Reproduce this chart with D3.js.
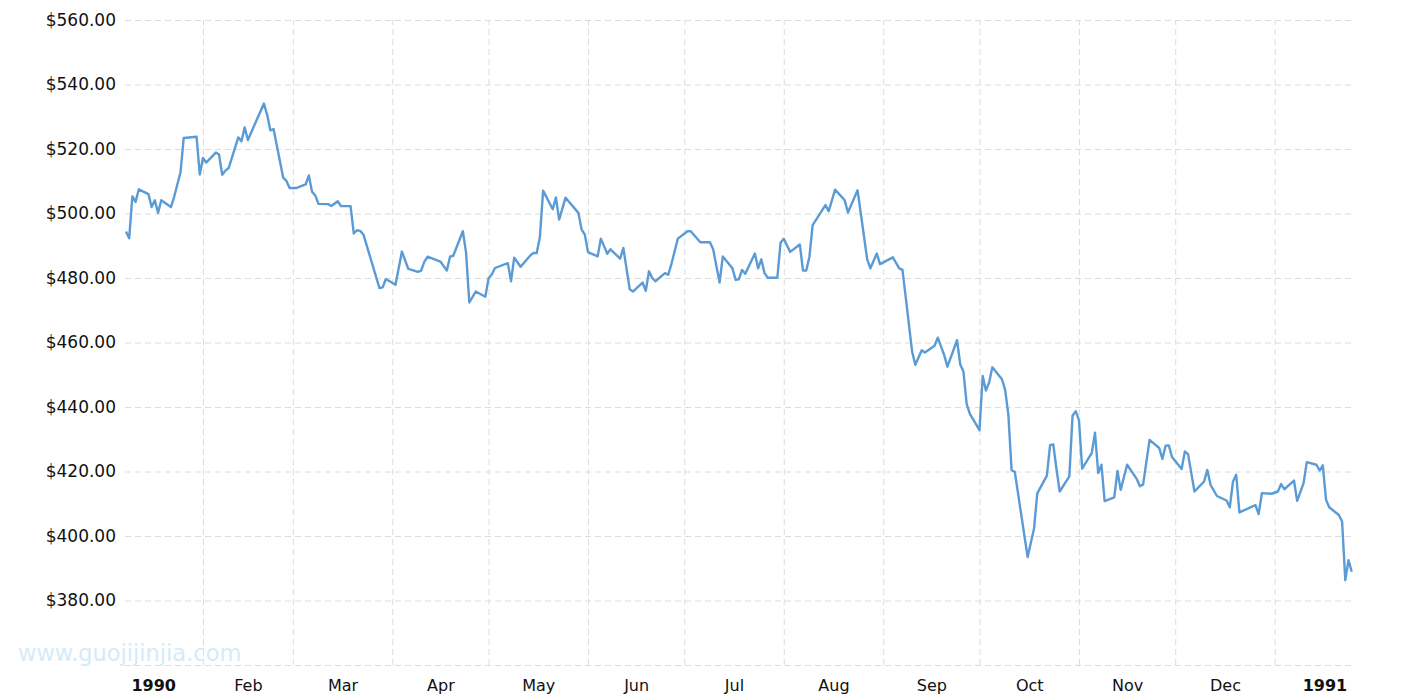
<!DOCTYPE html>
<html>
<head>
<meta charset="utf-8">
<script src="https://cdn.jsdelivr.net/npm/d3@7"></script>
<style>
body{margin:0;background:#fff;}
</style>
</head>
<body>
<svg id="chart"></svg>
<script>

var dates = [
"1990-01-08","1990-01-09","1990-01-10","1990-01-11","1990-01-12","1990-01-15","1990-01-16","1990-01-17","1990-01-18","1990-01-19",
"1990-01-22","1990-01-23","1990-01-25","1990-01-26","1990-01-30","1990-01-31","1990-02-01","1990-02-02","1990-02-05","1990-02-06",
"1990-02-07","1990-02-08","1990-02-09","1990-02-12","1990-02-13","1990-02-14","1990-02-15","1990-02-20","1990-02-21","1990-02-22",
"1990-02-23","1990-02-26","1990-02-27","1990-02-28","1990-03-02","1990-03-05","1990-03-06","1990-03-07","1990-03-08","1990-03-09",
"1990-03-12","1990-03-13","1990-03-15","1990-03-16","1990-03-19","1990-03-20","1990-03-21","1990-03-22","1990-03-23","1990-03-28",
"1990-03-29","1990-03-30","1990-04-02","1990-04-04","1990-04-06","1990-04-09","1990-04-10","1990-04-11","1990-04-12","1990-04-16",
"1990-04-18","1990-04-19","1990-04-20","1990-04-23","1990-04-24","1990-04-25","1990-04-27","1990-04-30","1990-05-01","1990-05-02",
"1990-05-03","1990-05-07","1990-05-08","1990-05-09","1990-05-11","1990-05-14","1990-05-15","1990-05-16","1990-05-17","1990-05-18",
"1990-05-21","1990-05-22","1990-05-23","1990-05-25","1990-05-29","1990-05-30","1990-05-31","1990-06-01","1990-06-04","1990-06-05",
"1990-06-07","1990-06-08","1990-06-11","1990-06-12","1990-06-14","1990-06-15","1990-06-18","1990-06-19","1990-06-20","1990-06-21",
"1990-06-22","1990-06-25","1990-06-26","1990-06-27","1990-06-29","1990-07-02","1990-07-03","1990-07-06","1990-07-09","1990-07-10",
"1990-07-12","1990-07-13","1990-07-16","1990-07-17","1990-07-18","1990-07-19","1990-07-20","1990-07-23","1990-07-24","1990-07-25",
"1990-07-26","1990-07-27","1990-07-30","1990-07-31","1990-08-01","1990-08-03","1990-08-06","1990-08-07","1990-08-08","1990-08-09",
"1990-08-10","1990-08-14","1990-08-15","1990-08-17","1990-08-20","1990-08-21","1990-08-24","1990-08-27","1990-08-28","1990-08-30",
"1990-08-31","1990-09-04","1990-09-06","1990-09-07","1990-09-10","1990-09-11","1990-09-13","1990-09-14","1990-09-17","1990-09-18",
"1990-09-20","1990-09-21","1990-09-24","1990-09-25","1990-09-26","1990-09-27","1990-09-28","1990-10-01","1990-10-02","1990-10-03",
"1990-10-04","1990-10-05","1990-10-08","1990-10-09","1990-10-10","1990-10-11","1990-10-12","1990-10-16","1990-10-18","1990-10-19",
"1990-10-22","1990-10-23","1990-10-24","1990-10-25","1990-10-26","1990-10-29","1990-10-30","1990-10-31","1990-11-01","1990-11-02",
"1990-11-05","1990-11-06","1990-11-07","1990-11-08","1990-11-09","1990-11-12","1990-11-13","1990-11-14","1990-11-16","1990-11-19",
"1990-11-20","1990-11-21","1990-11-23","1990-11-26","1990-11-27","1990-11-28","1990-11-29","1990-11-30","1990-12-03","1990-12-04",
"1990-12-05","1990-12-07","1990-12-10","1990-12-11","1990-12-12","1990-12-14","1990-12-17","1990-12-18","1990-12-19","1990-12-20",
"1990-12-21","1990-12-26","1990-12-27","1990-12-28","1990-12-31","1991-01-02","1991-01-03","1991-01-04","1991-01-07","1991-01-08",
"1991-01-10","1991-01-11","1991-01-14","1991-01-15","1991-01-16","1991-01-17","1991-01-18","1991-01-21","1991-01-22","1991-01-23",
"1991-01-24","1991-01-25"
];

var prices = [
494.4,492.3,505.3,503.6,507.5,506.0,502.0,504.1,500.2,504.1,
502.0,505.1,512.8,523.4,523.8,512.1,517.2,515.8,518.9,518.3,
512.0,513.3,514.1,523.6,522.4,526.7,522.8,534.1,530.6,525.8,
526.2,511.1,510.1,507.9,507.9,509.0,511.8,506.7,505.6,503.0,
502.9,502.3,503.8,502.3,502.3,493.8,494.8,494.6,493.5,476.9,
477.1,479.7,477.9,488.2,482.8,481.9,482.3,485.1,486.6,485.1,
482.3,486.6,486.9,494.5,487.8,472.4,475.8,474.2,479.9,481.1,
483.1,484.6,479.0,486.3,483.5,487.0,487.8,487.7,492.7,507.1,
501.3,505.0,498.1,504.9,500.2,495.0,493.5,488.0,486.7,492.2,
487.5,488.9,486.0,489.3,476.5,475.8,478.6,476.0,482.1,480.0,
479.0,481.5,481.0,484.4,492.2,494.5,494.5,491.1,491.1,488.9,
478.6,486.7,483.0,479.4,479.6,482.5,481.3,487.6,483.0,485.8,
481.5,480.1,480.1,490.9,492.2,488.1,490.4,482.3,482.3,486.6,
496.4,502.6,500.7,507.4,504.1,500.3,507.2,485.8,483.0,487.6,
484.3,486.4,483.0,482.5,457.2,453.1,457.6,456.9,459.0,461.5,
456.1,452.5,460.7,453.2,451.0,441.0,437.9,432.8,449.6,445.1,
447.6,452.3,448.6,445.3,437.6,420.4,419.9,393.5,402.3,413.2,
418.7,428.2,428.4,420.7,413.8,418.5,437.3,438.7,435.9,420.9,
425.8,432.0,419.5,422.1,410.8,412.0,420.2,414.3,422.1,417.7,
415.4,416.0,429.8,427.3,423.9,428.0,428.1,424.5,420.8,426.2,
425.4,413.8,416.9,420.5,415.9,412.4,411.0,408.9,416.9,419.0,
407.3,409.6,406.8,413.3,413.1,413.8,416.1,414.5,417.2,410.9,
416.4,422.9,422.1,420.3,421.9,411.2,408.9,406.5,404.5,386.3,
392.5,388.9
];

var yTicks = [360,380,400,420,440,460,480,500,520,540,560];
var monthLabels = ["1990","Feb","Mar","Apr","May","Jun","Jul","Aug","Sep","Oct","Nov","Dec","1991"];
var watermark = "www.guojijinjia.com";

drawChart("svg#chart");

function drawChart(svgNAME){
  var width = 1415;
  var height = 700;
  var left = 125, right = 1355, top = 20, bottom = 665;

  var parse = d3.timeParse("%Y-%m-%d");
  var data = dates.map(function(d,i){
    return {date: parse(d), price: prices[i]};
  });

  var svg = d3.select(svgNAME)
              .attr("width",width)
              .attr("height",height)
              .style("font-family","'DejaVu Sans', Verdana, sans-serif");

  var x = d3.scaleTime()
            .domain([new Date(1990,0,1), new Date(1991,0,1)])
            .range([103.5, 1274.7]);

  var y = d3.scaleLinear()
            .domain([360,560])
            .range([bottom, top]);

  // horizontal grid + y labels
  var yAxis = d3.axisLeft(y)
                .tickValues(yTicks)
                .tickSize(-(right-left))
                .tickPadding(9)
                .tickFormat(function(d){ return d==360 ? "" : d3.format("$,.2f")(d); });

  var gy = svg.append("g")
              .attr("transform","translate("+left+",0)")
              .call(yAxis);
  gy.select(".domain").remove();
  gy.selectAll("line")
    .attr("stroke","#dcdcdc")
    .attr("stroke-dasharray","6,4");
  gy.selectAll("text")
    .attr("fill","#111")
    .attr("font-size",17)
    .attr("font-family","'DejaVu Sans', Verdana, sans-serif");

  // vertical grid at month starts
  var monthStarts = d3.timeMonth.range(new Date(1990,0,1), new Date(1991,1,1));
  var gridDates = monthStarts.filter(function(d){ return x(d) > left; });

  var gx = svg.append("g")
              .attr("transform","translate(0,"+bottom+")")
              .call(d3.axisBottom(x)
                      .tickValues(gridDates)
                      .tickSize(-(bottom-top))
                      .tickFormat(""));
  gx.select(".domain").remove();
  gx.selectAll("line")
    .attr("stroke","#dcdcdc")
    .attr("stroke-dasharray","6,4");

  // month labels centred in each month
  var midDates = monthStarts.map(function(d){
    var next = d3.timeMonth.offset(d,1);
    return new Date((d.getTime()+next.getTime())/2);
  });

  var gl = svg.append("g")
              .attr("transform","translate(0,"+bottom+")")
              .call(d3.axisBottom(x)
                      .tickValues(midDates)
                      .tickSize(0)
                      .tickPadding(15)
                      .tickFormat(function(d,i){ return monthLabels[i]; }));
  gl.select(".domain").remove();
  gl.selectAll("text")
    .attr("fill","#111")
    .attr("font-size",16)
    .attr("font-family","'DejaVu Sans', Verdana, sans-serif")
    .attr("font-weight",function(d,i){ return (i==0 || i==monthLabels.length-1) ? "bold" : "normal"; });

  // watermark
  svg.append("text")
     .text(watermark)
     .attr("x",18)
     .attr("y",661)
     .attr("fill","#d4ebfa")
     .attr("font-size",22.5)
     .attr("font-family","'DejaVu Sans', Verdana, sans-serif");

  // price line
  var line = d3.line()
               .x(function(d){ return x(d.date); })
               .y(function(d){ return y(d.price); });

  svg.append("path")
     .datum(data)
     .attr("d",line)
     .attr("fill","none")
     .attr("stroke","#5b9bd5")
     .attr("stroke-width",2.4)
     .attr("stroke-linejoin","round");
}
</script>
</body>
</html>
